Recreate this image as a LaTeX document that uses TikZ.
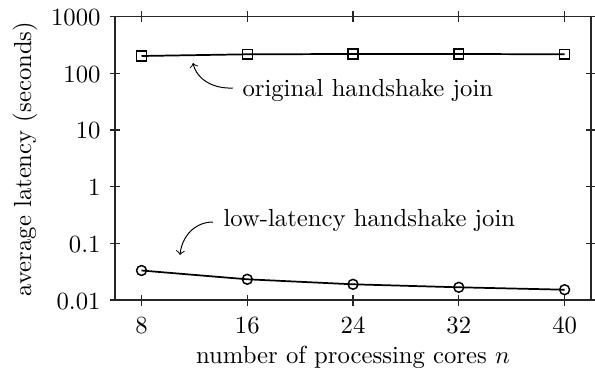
\documentclass[tikz,border=0pt]{standalone}
\begin{document}
\begin{tikzpicture}[x=0.405pt,y=-0.405pt,
  axisline/.style={line width=0.45pt, black!85},
  tickline/.style={line width=0.45pt, black!85},
  plotline/.style={line width=0.7pt},
  sqmark/.style={draw, rectangle, minimum size=4pt, inner sep=0pt, line width=0.6pt},
  cmark/.style={draw, circle, minimum size=4pt, inner sep=0pt, line width=0.6pt},
  ticklabel/.style={inner sep=0pt},
  annot/.style={->, line width=0.4pt}]
\useasboundingbox (0,0) rectangle (595,368);
% axis box
\draw[axisline] (115,16.7) rectangle (591,300);
% x ticks
\foreach \xx in {141.5,247.3,353,458.8,564.6}{
  \draw[tickline] (\xx,11.2) -- (\xx,22.2);
  \draw[tickline] (\xx,294.5) -- (\xx,305.5);
}
% y ticks
\foreach \yy in {16.7,73.4,130,186.7,243.3,300}{
  \draw[tickline] (110,\yy) -- (120,\yy);
  \draw[tickline] (586,\yy) -- (596,\yy);
}
% x tick labels
\node[ticklabel, anchor=base] (x8)  at (141.5,333) {8};
\node[ticklabel, anchor=base] (x16) at (247.3,333) {16};
\node[ticklabel, anchor=base] (x24) at (353,333) {24};
\node[ticklabel, anchor=base] (x32) at (458.8,333) {32};
\node[ticklabel, anchor=base] (x40) at (564.6,333) {40};
% y tick labels
\node[ticklabel, anchor=base east] (y1000) at (101,25.7) {1000};
\node[ticklabel, anchor=base east] (y100)  at (101,82.4) {100};
\node[ticklabel, anchor=base east] (y10)   at (101,139) {10};
\node[ticklabel, anchor=base east] (y1)    at (101,195.7) {1};
\node[ticklabel, anchor=base east] (y01)   at (101,252.3) {0.1};
\node[ticklabel, anchor=base east] (y001)  at (101,309) {0.01};
% axis labels
\node[inner sep=0pt, anchor=base] (xlab) at (353,363) {number of processing cores $n$};
\node[inner sep=0pt, anchor=base, rotate=90] (ylab) at (31,159) {average latency (seconds)};
% original handshake join
\coordinate (s8)  at (141.5,56);
\coordinate (s16) at (247.3,54.3);
\coordinate (s24) at (353,54);
\coordinate (s32) at (458.8,54);
\coordinate (s40) at (564.6,54.3);
\draw[plotline] (s8) -- (s16) -- (s24) -- (s32) -- (s40);
\foreach \p in {s8,s16,s24,s32,s40}{ \node[sqmark] (m\p) at (\p) {}; }
% low-latency handshake join
\coordinate (c8)  at (141.5,270.5);
\coordinate (c16) at (247.3,279.3);
\coordinate (c24) at (353,284.3);
\coordinate (c32) at (458.8,287.3);
\coordinate (c40) at (564.6,289.7);
\draw[plotline] (c8) -- (c16) -- (c24) -- (c32) -- (c40);
\foreach \p in {c8,c16,c24,c32,c40}{ \node[cmark] (m\p) at (\p) {}; }
% annotations
\node[inner sep=0pt, anchor=base west] (t1) at (242,97) {original handshake join};
\coordinate (t1s) at (233,88);
\coordinate (t1e) at (193,63);
\draw[annot] (t1s) .. controls (214,89) and (197,80) .. (t1e);
\node[inner sep=0pt, anchor=base west] (t2) at (223,226.5) {low-latency handshake join};
\coordinate (t2s) at (213,222);
\coordinate (t2e) at (180,255);
\draw[annot] (t2s) .. controls (195,222) and (182,236) .. (t2e);
\end{tikzpicture}
\end{document}
